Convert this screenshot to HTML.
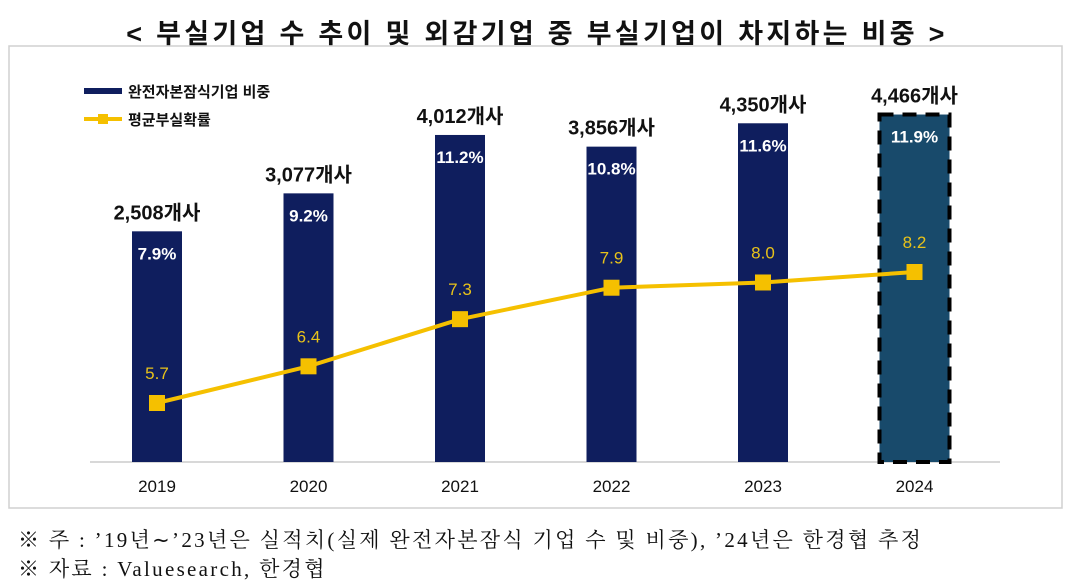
<!DOCTYPE html>
<html><head><meta charset="utf-8"><style>
body{margin:0;background:#fff;width:1074px;height:586px;overflow:hidden;font-family:"Liberation Sans","Noto Sans CJK KR",sans-serif}
.t{position:absolute;left:0;width:1074px;top:12px;text-align:center;font-size:27px;font-weight:bold;color:#111;letter-spacing:3.3px}
.n{position:absolute;left:18px;font-family:"Liberation Serif","Noto Serif CJK SC","Noto Sans CJK KR",serif;font-size:21px;color:#111;letter-spacing:2.3px;white-space:nowrap}
</style></head><body>
<div class="t">&lt; 부실기업 수 추이 및 외감기업 중 부실기업이 차지하는 비중 &gt;</div>
<svg id="c" width="1074" height="586" style="position:absolute;left:0;top:0"></svg>
<div class="n" style="top:524px">※ 주 : ’19년∼’23년은 실적치(실제 완전자본잠식 기업 수 및 비중), ’24년은 한경협 추정</div>
<div class="n" style="top:553px">※ 자료 : Valuesearch, 한경협</div>
<script>
const years=["2019","2020","2021","2022","2023","2024"];
const shares=[7.9,9.2,11.2,10.8,11.6,11.9];
const counts=["2,508개사","3,077개사","4,012개사","3,856개사","4,350개사","4,466개사"];
const probs=[5.7,6.4,7.3,7.9,8.0,8.2];
const NS="http://www.w3.org/2000/svg",svg=document.getElementById('c');
function mk(t,a,p){const e=document.createElementNS(NS,t);for(const k in a)e.setAttribute(k,a[k]);(p||svg).appendChild(e);return e;}
const base=462;
const xc=i=>157+151.5*i;
const yb=v=>base-v*29.2;
const yl=v=>403-(v-5.7)*52.4;
let f=mk('rect',{x:9,y:46,width:1053,height:462,fill:'none',stroke:'#d0d0d0','stroke-width':1.5});

let ax=mk('line',{x1:90,x2:1000,y1:base,y2:base,stroke:'#ccc','stroke-width':1.5});

shares.forEach((v,i)=>{
  const last=i===shares.length-1,w=last?70:50,x=xc(i)-w/2,y=yb(v);
  const r=mk('rect',{x:x,y:y,width:w,height:base-y,fill:last?'#184a6b':'#0f1e5e'});
  if(last){r.setAttribute('stroke','#000');r.setAttribute('stroke-width','4');r.setAttribute('stroke-dasharray','14 9');}
  
  const p=mk('text',{x:xc(i),y:y+28,'text-anchor':'middle','font-size':17,'font-weight':'bold',fill:'#fff'});
  p.textContent=v.toFixed(1)+'%';
  const c=mk('text',{x:xc(i),y:y-12,'text-anchor':'middle','font-size':20,'font-weight':'bold',fill:'#111'});
  c.textContent=counts[i];
  const t=mk('text',{x:xc(i),y:base+30,'text-anchor':'middle','font-size':17,fill:'#111'});
  t.textContent=years[i];
});
const ln=mk('polyline',{points:probs.map((v,i)=>xc(i)+','+yl(v)).join(' '),fill:'none',stroke:'#f5c000','stroke-width':4});

probs.forEach((v,i)=>{
  const m=mk('rect',{x:xc(i)-8,y:yl(v)-8,width:16,height:16,fill:'#f5c000'});
  
  const t=mk('text',{x:xc(i),y:yl(v)-24,'text-anchor':'middle','font-size':17,fill:'#e8c21a'});
  t.textContent=v.toFixed(1);
});
const l1=mk('line',{x1:84,x2:122,y1:91,y2:91,stroke:'#0f1e5e','stroke-width':6});

const lt1=mk('text',{x:128,y:97,'font-size':15,'font-weight':'bold',fill:'#111'});lt1.textContent='완전자본잠식기업 비중';

const l2=mk('line',{x1:84,x2:122,y1:119,y2:119,stroke:'#f5c000','stroke-width':4});

const l2m=mk('rect',{x:98,y:114,width:10,height:10,fill:'#f5c000'});

const lt2=mk('text',{x:128,y:125,'font-size':15,'font-weight':'bold',fill:'#111'});lt2.textContent='평균부실확률';

</script>
</body></html>
